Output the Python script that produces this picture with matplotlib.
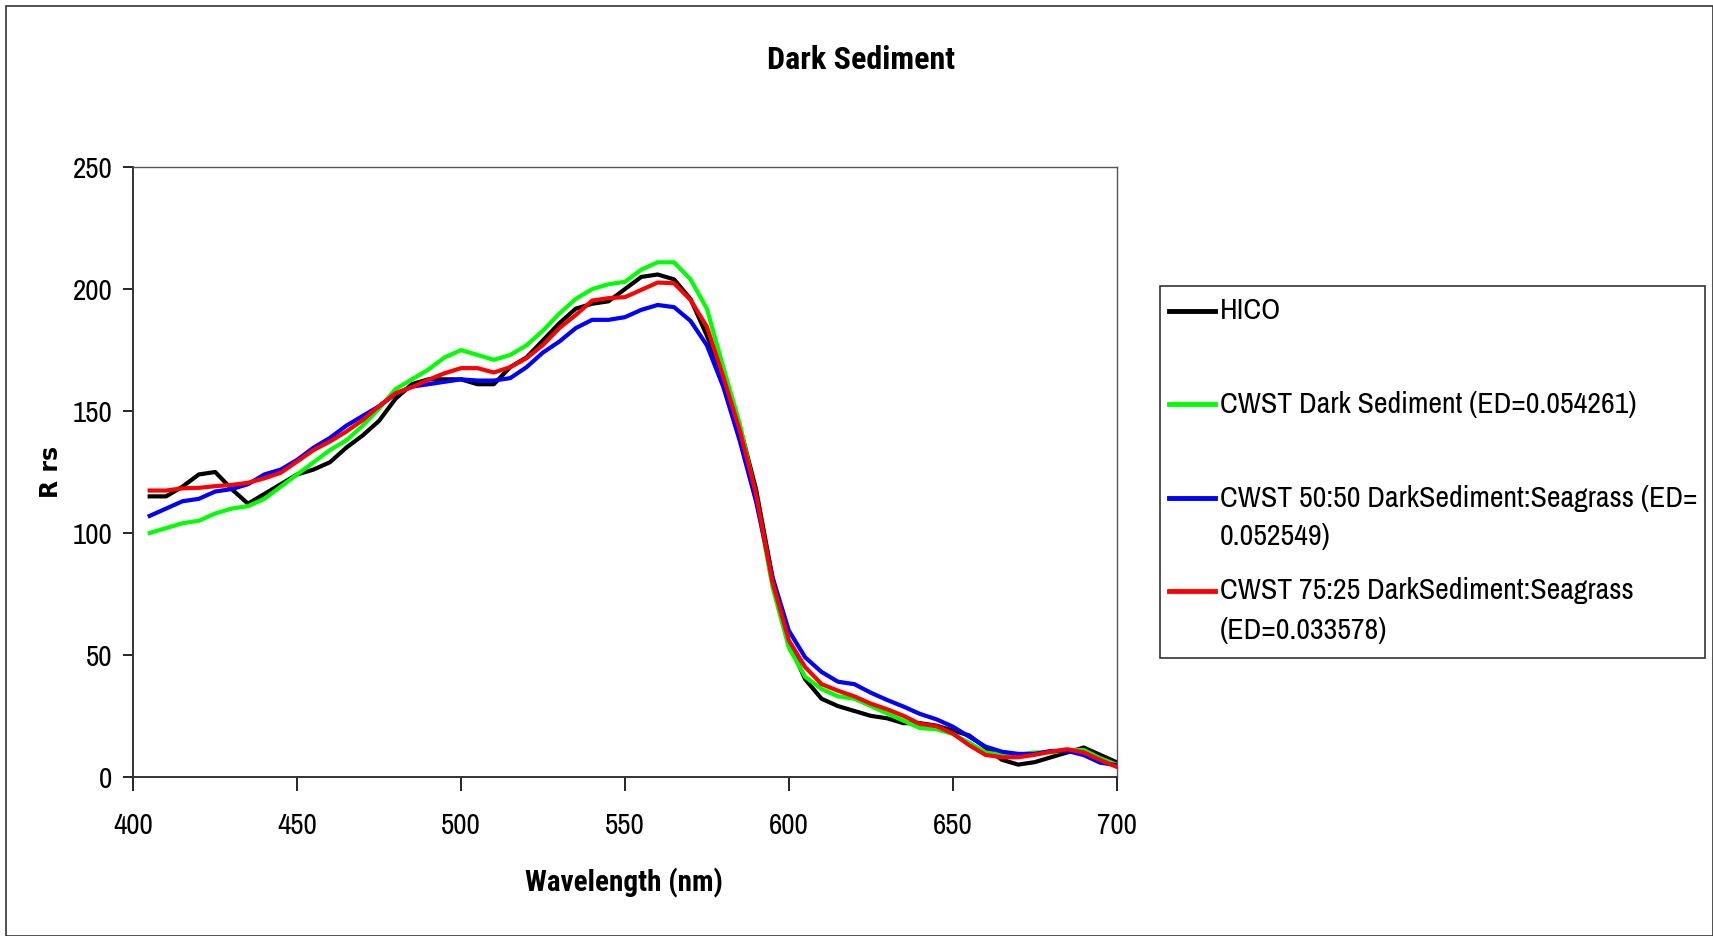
import numpy as np
import matplotlib
matplotlib.use("Agg")
import matplotlib.pyplot as plt
from matplotlib.lines import Line2D
from matplotlib.patches import Rectangle

plt.rcParams['font.family'] = ['Archivo Narrow', 'PT Sans Narrow', 'Liberation Sans', 'DejaVu Sans']
BOLD_NARROW = ['Roboto Condensed', 'Liberation Sans', 'DejaVu Sans']

wavelength = list(range(405, 701, 5))

hico = [115, 115, 119, 124, 125, 118, 112, 116, 120, 124, 126, 129, 135, 140, 146, 155, 161,
        163, 163, 163, 161, 161, 168, 172, 179, 186, 192, 194, 195, 200, 205, 206, 204, 196,
        181, 164, 144, 118, 82, 55, 40, 32, 29, 27, 25, 24, 22, 22, 21, 19, 17, 12, 7, 5, 6,
        8, 10, 12, 9, 6]
cwst_dark = [100, 102, 104, 105, 108, 110, 111, 114, 119, 124, 129, 134, 138, 144, 151, 159, 163,
             167, 172, 175, 173, 171, 173, 177, 183, 190, 196, 200, 202, 203, 208, 211, 211, 204,
             192, 168, 145, 115, 78, 53, 41, 36, 33, 32, 29, 26, 23, 20, 19.5, 17.6, 14, 10, 9,
             9, 10, 10, 11, 11, 7.6, 5]
cwst_5050 = [107, 110, 113, 114, 117, 118, 120, 124, 126, 130, 135, 139, 144, 148, 152, 157, 160,
             161, 162, 163, 162.5, 162.5, 163.5, 168, 174, 178.5, 184, 187.4, 187.4, 188.5, 191.5,
             193.5, 192.6, 187, 177, 160, 138, 113, 82, 60, 49, 43, 39, 38, 34.5, 31.5, 28.8,
             25.8, 23.6, 20.6, 16.5, 12.4, 10.3, 9.4, 9.4, 10.6, 10.6, 8.9, 5.8, 4.8]
cwst_7525 = [117.4, 117.4, 118.3, 118.5, 119.2, 119.7, 120.6, 122.4, 124.7, 129.3, 134, 137.5,
             141.6, 146.3, 152, 157.3, 159.8, 162.8, 165.5, 167.6, 167.6, 165.8, 168, 171.7,
             177.1, 184, 189.4, 195.3, 196.3, 196.7, 199.7, 202.7, 202.4, 195.6, 184.6, 164.1,
             142.3, 116, 80, 56, 45, 38, 35.3, 33, 30, 27.7, 25, 21.7, 20.8, 17.8, 13, 9, 8, 8,
             9, 10.3, 11.3, 10, 6.9, 4.1]

series = [hico, cwst_dark, cwst_5050, cwst_7525]
labels = ["HICO",
          "CWST Dark Sediment (ED=0.054261)",
          "CWST 50:50 DarkSediment:Seagrass (ED=\n0.052549)",
          "CWST 75:25 DarkSediment:Seagrass\n(ED=0.033578)"]
colors = ["#000000", "#00FF00", "#0000FF", "#FF0000"]

W, H = 1713, 936
fig = plt.figure(figsize=(W / 100, H / 100), dpi=100)
ax = fig.add_axes([133.3 / W, 1 - 776.8 / H, 983.2 / W, 609.6 / H])

for values, color in zip(series, colors):
    ax.plot(wavelength, values, color=color, linewidth=3)

ax.set_xlim(400, 700)
ax.set_ylim(0, 250)
ax.set_xticks(np.arange(400, 701, 50))
ax.set_yticks(np.arange(0, 251, 50))
ax.tick_params(axis='x', direction='out', length=10, width=1.2, pad=15, labelsize=21)
ax.tick_params(axis='y', direction='out', length=7, width=1.2, pad=8, labelsize=21)
for side in ['left', 'bottom']:
    ax.spines[side].set_color('#333333')
    ax.spines[side].set_linewidth(1.4)
for side in ['top', 'right']:
    ax.spines[side].set_color('#555555')
    ax.spines[side].set_linewidth(1.0)

fig.text(861 / W, 1 - 60 / H, "Dark Sediment", ha='center', va='center',
         fontsize=23, fontweight='bold', family=BOLD_NARROW)
fig.text(624 / W, 1 - 883 / H, "Wavelength (nm)", ha='center', va='center',
         fontsize=21, fontweight='bold', family=BOLD_NARROW)
fig.text(51 / W, 1 - 472 / H, "R rs", ha='center', va='center', rotation=90,
         fontsize=17, fontweight='bold', family='DejaVu Sans')

# legend box drawn by hand so the handle sits on the first text line
fig.add_artist(Rectangle((1160 / W, 1 - 658 / H), 545 / W, 372 / H,
                         transform=fig.transFigure, fill=False,
                         edgecolor='#333333', linewidth=1.2))
entry_y = [311, 404, 498, 591]
for label, color, y in zip(labels, colors, entry_y):
    fig.add_artist(Line2D([1169 / W, 1215 / W], [1 - y / H, 1 - y / H],
                          transform=fig.transFigure, color=color, linewidth=3.5))
    for i, line in enumerate(label.split("\n")):
        fig.text(1220 / W, 1 - (y + 39 * i) / H, line, ha='left', va='center', fontsize=21.5)

# outer chart border
fig.add_artist(Rectangle((6 / W, 0), 1 - 6 / W, 1 - 6 / H, transform=fig.transFigure,
                         fill=False, edgecolor='#333333', linewidth=1.2))

fig.savefig("out.png", dpi=100)
